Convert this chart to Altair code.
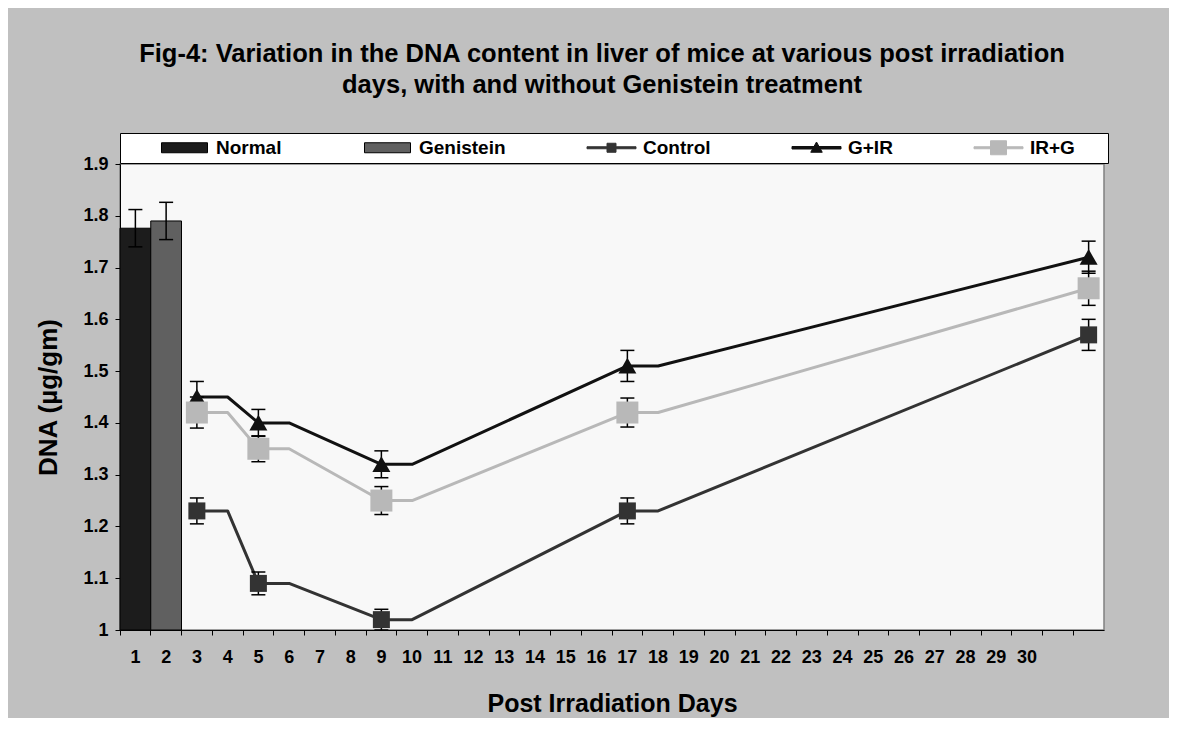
import altair as alt
import pandas as pd

# ---------------- data ----------------
categories = [str(i) for i in range(1, 33)]
series_names = ["Normal", "Genistein", "Control", "G+IR", "IR+G"]
fill_colors = ["#1c1c1c", "#606060", "#333333", "#111111", "#b8b8b8"]
stroke_colors = ["#000000", "#000000", "#333333", "#111111", "#b8b8b8"]

bar_days = ["1", "2"]
bar_series = ["Normal", "Genistein"]
bar_values = [1.776, 1.790]
bar_errors = [0.036, 0.036]

marker_days = ["3", "5", "9", "17", "32"]
control_values = [1.23, 1.09, 1.02, 1.23, 1.57]
control_errors = [0.025, 0.022, 0.020, 0.025, 0.030]
gir_values = [1.45, 1.40, 1.32, 1.51, 1.72]
gir_errors = [0.030, 0.026, 0.026, 0.030, 0.031]
irg_values = [1.42, 1.35, 1.25, 1.42, 1.66]
irg_errors = [0.030, 0.025, 0.027, 0.028, 0.033]

line_days = ["3", "4", "5", "6", "9", "10", "17", "18", "32"]
control_line = [1.23, 1.23, 1.09, 1.09, 1.02, 1.02, 1.23, 1.23, 1.57]
gir_line = [1.45, 1.45, 1.40, 1.40, 1.32, 1.32, 1.51, 1.51, 1.72]
irg_line = [1.42, 1.42, 1.35, 1.35, 1.25, 1.25, 1.42, 1.42, 1.66]

y_ticks = [1.0, 1.1, 1.2, 1.3, 1.4, 1.5, 1.6, 1.7, 1.8, 1.9]
y_base = 1.0

FONT = "Liberation Sans"
BLANK = "\u2800"  # blank glyph used to widen the legend box on the right

# ---------------- tables ----------------
bars = pd.DataFrame({"day": bar_days, "series": bar_series, "value": bar_values, "err": bar_errors})
bars["lo"] = bars["value"] - bars["err"]
bars["hi"] = bars["value"] + bars["err"]

marker_frames = []
for name, vals, errs in [("Control", control_values, control_errors),
                         ("G+IR", gir_values, gir_errors),
                         ("IR+G", irg_values, irg_errors)]:
    d = pd.DataFrame({"day": marker_days, "series": name, "value": vals, "err": errs})
    d["lo"] = d["value"] - d["err"]
    d["hi"] = d["value"] + d["err"]
    marker_frames.append(d)
markers = pd.concat(marker_frames, ignore_index=True)

line_frames = []
for name, vals in [("Control", control_line), ("G+IR", gir_line), ("IR+G", irg_line)]:
    line_frames.append(pd.DataFrame({"day": line_days, "series": name, "value": vals,
                                     "order": list(range(len(line_days)))}))
lines = pd.concat(line_frames, ignore_index=True)

legend_rows = pd.DataFrame({"series": series_names, "day": ["1"] * 5, "value": [1.0] * 5})

# ---------------- scales / axes ----------------
xscale = alt.Scale(domain=categories, paddingInner=0, paddingOuter=0)
yscale = alt.Scale(domain=[1.0, 1.9], nice=False, zero=False)

x_axis = alt.Axis(
    title="Post Irradiation Days", titleFontSize=25, titleFontWeight="bold", titleFont=FONT,
    titleColor="black", titlePadding=25,
    labelFontSize=18, labelFontWeight="bold", labelFont=FONT, labelColor="black",
    labelAngle=0, labelPadding=13, bandPosition=0, tickSize=5, tickColor="black",
    domainColor="black", grid=False,
    labelExpr="toNumber(datum.value) > 30 ? '' : datum.label",
)
y_axis = alt.Axis(
    title="DNA (µg/gm)", titleFontSize=26, titleFontWeight="bold", titleFont=FONT,
    titleColor="black", titlePadding=21,
    labelFontSize=18, labelFontWeight="bold", labelFont=FONT, labelColor="black",
    values=y_ticks, format=".1~f", labelPadding=7, tickSize=5, tickColor="black",
    domainColor="black", grid=False,
)

X = alt.X("day:N", scale=xscale, axis=x_axis, sort=categories)
Y = alt.Y("value:Q", scale=yscale, axis=y_axis)

# legend symbols: bar swatches and line+marker glyphs
bar_path = "M-0.92,-0.2H0.92V0.2H-0.92Z"
control_path = "M-0.98,-0.04H-0.18V-0.18H0.18V-0.04H0.98V0.04H0.18V0.18H-0.18V0.04H-0.98Z"
gir_path = "M-0.98,-0.05H0.98V0.05H-0.98Z M0,-0.23L0.23,0.18H-0.23Z"
irg_path = "M-0.98,-0.04H0.98V0.04H-0.98Z M-0.32,-0.28H0.32V0.28H-0.32Z"
legend_shapes = [bar_path, bar_path, control_path, gir_path, irg_path]

legend = alt.Legend(
    title=" ", titleOrient="left", titlePadding=34, titleFontSize=19,
    orient="none", legendX=0, legendY=-31, direction="horizontal",
    symbolSize=2500, symbolStrokeWidth=1, symbolOpacity=1, clipHeight=19,
    labelFontSize=19, labelFont=FONT, labelFontWeight="bold",
    labelColor="black", labelOffset=6, columnPadding=80,
    fillColor="white", strokeColor="black", padding=5,
    labelExpr="datum.label === 'IR+G' ? 'IR+G" + BLANK * 2 + "' : datum.label",
)

fill_scale = alt.Scale(domain=series_names, range=fill_colors)
stroke_scale = alt.Scale(domain=series_names, range=stroke_colors)
shape_scale = alt.Scale(domain=series_names, range=legend_shapes)

bar_layer = alt.Chart(bars).mark_bar(stroke="black", strokeWidth=1, opacity=1).encode(
    x=X, y=Y, y2=alt.datum(y_base),
    fill=alt.Fill("series:N", scale=fill_scale, legend=legend),
)
legend_layer = alt.Chart(legend_rows).transform_filter("datum.value > 5").mark_point(
    filled=True, opacity=1).encode(
    x=X, y=Y,
    fill=alt.Fill("series:N", scale=fill_scale, legend=legend),
    stroke=alt.Stroke("series:N", scale=stroke_scale, legend=legend),
    shape=alt.Shape("series:N", scale=shape_scale, legend=legend),
)

bar_err = alt.Chart(bars).mark_rule(color="black", strokeWidth=1.5).encode(
    x=X, y=alt.Y("lo:Q", scale=yscale), y2="hi:Q")
bar_cap_lo = alt.Chart(bars).mark_tick(color="black", thickness=1.5, size=14, opacity=1).encode(
    x=X, y=alt.Y("lo:Q", scale=yscale))
bar_cap_hi = alt.Chart(bars).mark_tick(color="black", thickness=1.5, size=14, opacity=1).encode(
    x=X, y=alt.Y("hi:Q", scale=yscale))

line_layer = alt.Chart(lines).mark_line(strokeWidth=3, strokeCap="round", strokeJoin="round").encode(
    x=X, y=Y, order="order:Q",
    stroke=alt.Stroke("series:N", scale=stroke_scale, legend=legend),
)

m_err = alt.Chart(markers).mark_rule(color="black", strokeWidth=1.5).encode(
    x=X, y=alt.Y("lo:Q", scale=yscale), y2="hi:Q", detail="series:N")
m_cap_lo = alt.Chart(markers).mark_tick(color="black", thickness=1.5, size=14, opacity=1).encode(
    x=X, y=alt.Y("lo:Q", scale=yscale), detail="series:N")
m_cap_hi = alt.Chart(markers).mark_tick(color="black", thickness=1.5, size=14, opacity=1).encode(
    x=X, y=alt.Y("hi:Q", scale=yscale), detail="series:N")

pt_control = alt.Chart(markers).transform_filter("datum.series === 'Control'").mark_point(
    filled=True, shape="square", size=289, color="#333333", opacity=1).encode(x=X, y=Y)
pt_gir = alt.Chart(markers).transform_filter("datum.series === 'G+IR'").mark_point(
    filled=True, shape="M0,-0.9L1,0.85L-1,0.85Z", size=324, color="#111111", opacity=1).encode(x=X, y=Y)
pt_irg = alt.Chart(markers).transform_filter("datum.series === 'IR+G'").mark_point(
    filled=True, shape="square", size=484, color="#b8b8b8", opacity=1).encode(x=X, y=Y)

chart = alt.layer(
    bar_layer, legend_layer, bar_err, bar_cap_lo, bar_cap_hi,
    line_layer, m_err, m_cap_lo, m_cap_hi,
    pt_control, pt_gir, pt_irg,
).properties(
    width=984, height=466,
    title=alt.Title(
        ["Fig-4: Variation in the DNA content in liver of mice at various post irradiation",
         "days, with and without Genistein treatment"],
        fontSize=25.5, font=FONT, fontWeight="bold", color="black", lineHeight=31,
        anchor="middle", dx=-10, offset=34,
    ),
    padding={"left": 112, "top": 156, "right": 65, "bottom": 88},
    autosize=alt.AutoSizeParams(type="none"),
    background="#c0c0c0",
).configure_view(fill="#f8f8f8", stroke="#808080", strokeWidth=1.5)

chart.save("out.html", embed_options={"renderer": "svg", "actions": False})
